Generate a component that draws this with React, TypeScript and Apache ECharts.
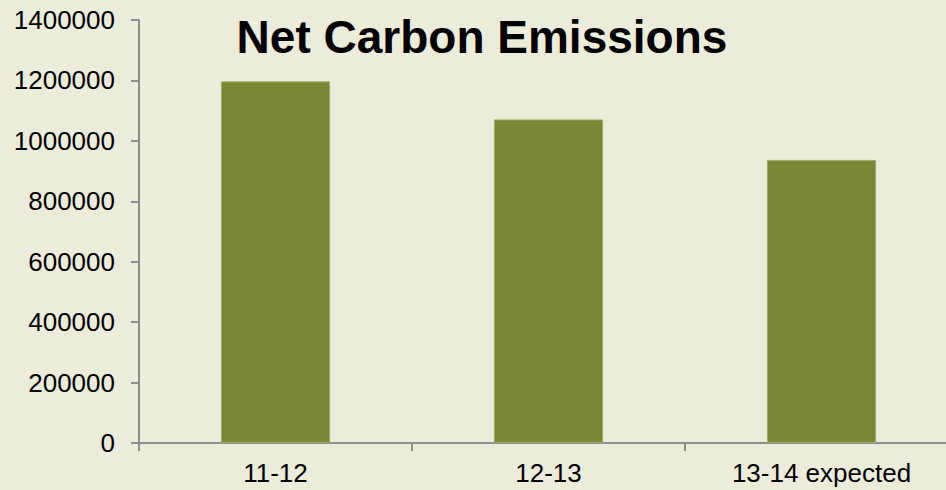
import React, { useEffect, useRef } from "react";
import * as echarts from "echarts";

const categories = ["11-12", "12-13", "13-14 expected"];
const emissions = [1197000, 1071000, 937000];
const yTicks = { min: 0, max: 1400000, interval: 200000 };
const titleText = "Net Carbon Emissions";

export default function App() {
  const ref = useRef<HTMLDivElement>(null);
  useEffect(() => {
    if (!ref.current) return;
    const chart = echarts.init(ref.current, null, { renderer: "svg" });
    chart.setOption({
      animation: false,
      backgroundColor: "#ECECDB",
      title: {
        text: titleText,
        left: 477,
        top: 9,
        textAlign: "center",
        textStyle: {
          fontFamily: "Liberation Sans, Arial, sans-serif",
          fontSize: 46,
          fontWeight: "bold",
          color: "#000",
        },
      },
      grid: { left: 139, right: 12, top: 20, bottom: 47, containLabel: false },
      xAxis: {
        type: "category",
        data: categories,
        axisLine: { show: true, lineStyle: { color: "#8E8E8E", width: 2 } },
        axisTick: { show: true, length: 8, alignWithLabel: false, lineStyle: { color: "#8E8E8E", width: 2 } },
        axisLabel: {
          margin: 17,
          fontFamily: "Liberation Sans, Arial, sans-serif",
          fontSize: 26,
          color: "#000",
        },
      },
      yAxis: {
        type: "value",
        min: yTicks.min,
        max: yTicks.max,
        interval: yTicks.interval,
        splitLine: { show: false },
        axisLine: { show: true, lineStyle: { color: "#8E8E8E", width: 2 } },
        axisTick: { show: true, length: 8, lineStyle: { color: "#8E8E8E", width: 2 } },
        axisLabel: {
          margin: 24,
          fontFamily: "Liberation Sans, Arial, sans-serif",
          fontSize: 26,
          color: "#000",
          formatter: (v: number) => String(v),
        },
      },
      series: [
        {
          type: "bar",
          data: emissions,
          barWidth: "40%",
          itemStyle: { color: "#7A8734", borderColor: "#A3AD6A", borderWidth: 1 },
        },
      ],
    });
    return () => chart.dispose();
  }, []);
  return (
    <div
      ref={ref}
      style={{ position: "fixed", left: 0, top: 0, width: 970, height: 490 }}
    />
  );
}
